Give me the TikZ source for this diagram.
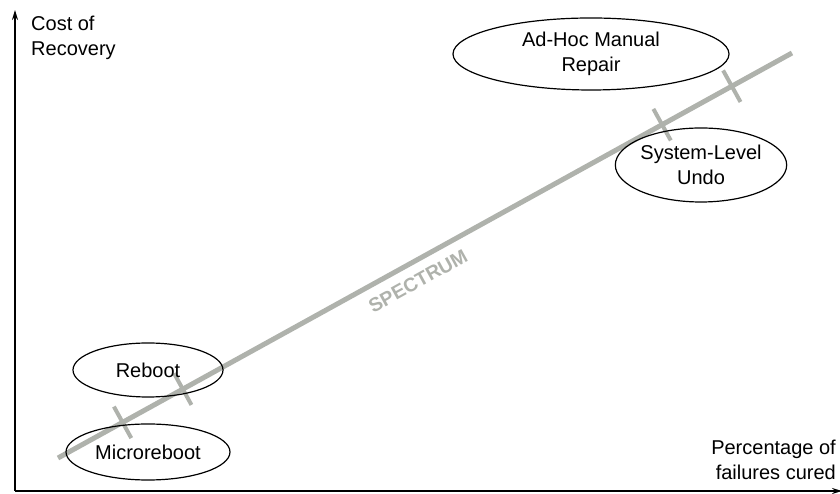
\documentclass[tikz,border=0pt]{standalone}
\usepackage{fontspec}
\setmainfont{Liberation Sans}
\usetikzlibrary{shapes.geometric,calc,arrows.meta}
\definecolor{spectrumgray}{RGB}{175,178,172}

\begin{document}
\begin{tikzpicture}[x=1pt,y=1pt,
    every node/.style={font=\fontsize{20}{25}\selectfont},
    recovery/.style={draw,ellipse,line width=1.2pt,inner sep=0pt,align=center},
    spectrumtick/.style={spectrumgray,line width=4pt},
    axis/.style={line width=1.5pt,-{Stealth[length=10pt,width=6pt]}}]
  \useasboundingbox (0,0) rectangle (840,494);
  % axes
  \coordinate (O) at (15,3);
  \coordinate (ytop) at (15,484);
  \coordinate (xend) at (842,3);
  \draw[axis] (O) -- (ytop);
  \draw[axis] (O) -- (xend);
  \node[anchor=north west,inner sep=0pt,align=left] (cost) at (31,478)
    {Cost of\\Recovery};
  \node[anchor=north east,inner sep=0pt,align=right] (cured) at (836,54)
    {Percentage of\\failures cured};
  % spectrum line with its marks
  \coordinate (s0) at (58,36);
  \coordinate (s1) at (792,441);
  \draw[spectrumgray,line width=5pt] (s0) -- (s1);
  \foreach \t/\name in {0.088/t1,0.170/t2,0.823/t3,0.918/t4}{
    \coordinate (\name) at ($(s0)!\t!(s1)$);
    \draw[spectrumtick] ($(\name)!18pt!90:(s1)$) -- ($(\name)!18pt!-90:(s1)$);
  }
  \node[font=\bfseries\fontsize{19.5}{21}\selectfont,text=spectrumgray,
    rotate=28.9] (spec) at (418,213) {SPECTRUM};
  % recovery techniques
  \node[recovery,minimum width=164pt,minimum height=56pt] (micro) at (148,42)
    {Microreboot};
  \node[recovery,minimum width=150pt,minimum height=54pt] (reboot) at (148,124)
    {Reboot};
  \node[recovery,minimum width=170pt,minimum height=74pt] (undo) at (701,329)
    {System-Level\\Undo};
  \node[recovery,minimum width=276pt,minimum height=72pt] (adhoc) at (591,440)
    {Ad-Hoc Manual\\Repair};
\end{tikzpicture}
\end{document}
